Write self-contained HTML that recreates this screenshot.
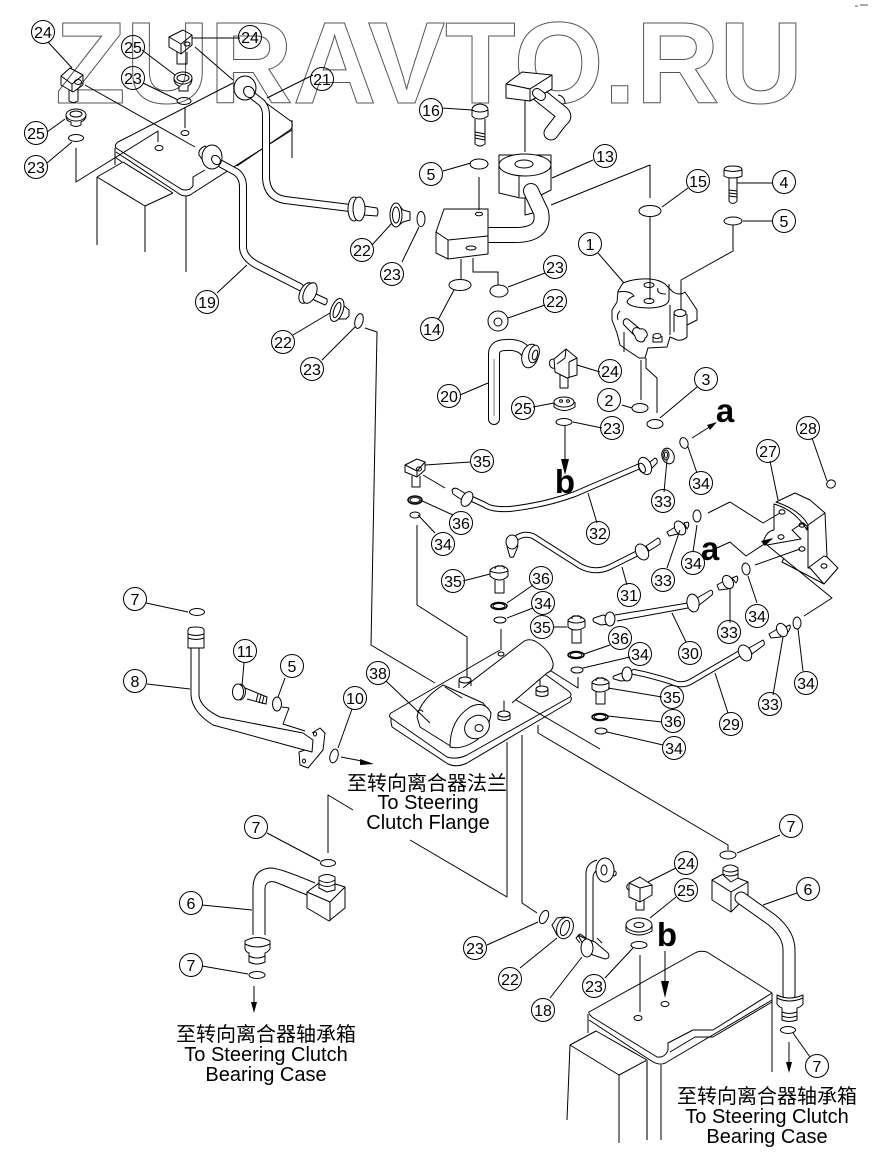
<!DOCTYPE html>
<html><head><meta charset="utf-8"><style>
html,body{margin:0;padding:0;background:#fff}
svg{display:block}
.w{font:bold 116px "Liberation Sans",sans-serif;fill:none;stroke:#555;stroke-width:1}
.p path,.p ellipse,.p circle,.p polyline,.p polygon,.p line{fill:none;stroke:#000;stroke-width:1;stroke-linejoin:round}
.p .f,.f path,.f ellipse,.f polygon{fill:#fff}
.p path.f,.p ellipse.f,.p polygon.f,.p .f path,.p .f ellipse,.p .f polygon{fill:#fff}
.p .k{fill:#000;stroke:none}
.p .t1{stroke:#000;fill:none;stroke-linecap:round}
.p .t2{stroke:#fff;fill:none;stroke-linecap:round}
.b circle{fill:none;stroke:#000;stroke-width:1}
.b text{font:16px "Liberation Sans",sans-serif;text-anchor:middle;fill:#000}
.l{font:20px "Liberation Sans","Noto Sans CJK SC",sans-serif;text-anchor:middle;fill:#000}
.big{font:bold 33px "Liberation Sans",sans-serif;text-anchor:middle;fill:#000}
</style></head><body>
<svg width="872" height="1162" viewBox="0 0 872 1162" xmlns="http://www.w3.org/2000/svg">
<rect width="872" height="1162" fill="#fff"/>
<text class="w" x="55" y="103" textLength="748" lengthAdjust="spacingAndGlyphs">ZURAVTO.RU</text>
<path d="M855 6h3M860 5h8" stroke="#555" fill="none"/>

<g class="p">
<!-- top-left tank -->
<path d="M233 83 L118 142 Q114 145 116 148 L181 189 Q185 191 190 189 L193 186 L193 177 L205 170 M237 166 L290 130 Q293 128 292 122 L262 100"/>
<path d="M115 148 V165 M115 157 L122 162 M116 152 L181 195 Q186 197 190 195 L265 147 L292 130 M292 120 V158 M186 196 V272"/>
<path d="M97 177 L123 162 L173 193 M97 177 L145 206 L173 193 M97 177 V245 M145 206 V252"/>
<path d="M158 131 V142 M158 131 L76 182 V148 M185 107 V128 M85 85 L195 147"/>
<ellipse cx="159" cy="148" rx="4" ry="2.5"/><ellipse cx="185" cy="133" rx="4" ry="2.5"/>

<!-- pipe 21 -->
<path class="t1" style="stroke-width:8" d="M248 92 L262 103 Q266 108 266 115 V178 Q267 197 285 200 L350 208"/>
<path class="t2" style="stroke-width:6" d="M248 92 L262 103 Q266 108 266 115 V178 Q267 197 285 200 L350 208"/>
<ellipse class="f" cx="245" cy="88" rx="11" ry="12"/><ellipse class="f" cx="249" cy="92" rx="5" ry="6" transform="rotate(-40 249 92)"/>
<path class="f" d="M364 206 L377 208 Q379 212 377 216 L364 215 Z"/>
<ellipse class="f" cx="354" cy="209" rx="6" ry="12"/><ellipse class="f" cx="359" cy="209" rx="6" ry="12"/>
<!-- 22 / 23 -->
<path class="f" d="M398 204 L403 210 L410 212 V220 L403 222 L398 226 Z"/>
<ellipse class="f" cx="396" cy="215" rx="6" ry="12"/><ellipse cx="396" cy="215" rx="3.5" ry="8"/>
<ellipse cx="421" cy="219" rx="4" ry="7.5"/>

<!-- pipe 19 -->
<path class="t1" style="stroke-width:8" d="M214 160 L236 172 Q243 177 243 187 V248 Q244 258 257 265 L300 287"/>
<path class="t2" style="stroke-width:6" d="M214 160 L236 172 Q243 177 243 187 V248 Q244 258 257 265 L300 287"/>
<path class="f" d="M199 155 Q198 149 205 146 L210 150 L204 162 Z"/>
<ellipse class="f" cx="212" cy="157" rx="10" ry="12"/><ellipse class="f" cx="216" cy="160" rx="4" ry="5" transform="rotate(-40 216 160)"/>
<path class="f" d="M314 293 L327 299 Q328 303 325 305 L312 299 Z"/>
<ellipse class="f" cx="306" cy="293" rx="6" ry="11" transform="rotate(25 306 293)"/><ellipse class="f" cx="310" cy="293" rx="6" ry="11" transform="rotate(25 310 293)"/>
<path class="f" d="M342 304 L349 310 V316 L346 319 L336 319 Z"/>
<ellipse class="f" cx="337" cy="310" rx="6" ry="12" transform="rotate(20 337 310)"/><ellipse cx="337" cy="310" rx="3" ry="8" transform="rotate(20 337 310)"/>
<ellipse cx="359" cy="321" rx="4" ry="7.5" transform="rotate(15 359 321)"/>
<path d="M365 328 L377 332 L371 645 L435 683"/>

<!-- blocks top -->
<path d="M70 68 L83 75 V85 L73 92 L61 85 V76 Z M61 76 L72 84 L83 75 M72 84 V92"/><ellipse cx="78" cy="82" rx="3.5" ry="2.5"/><path d="M69 90 V101 Q73 104 78 101 V89"/>
<ellipse cx="76" cy="115" rx="10" ry="6"/><ellipse cx="76" cy="114" rx="6" ry="3"/><path d="M66 116 Q66 121 71 122 V125 Q76 128 81 125 V122 Q86 120 86 115"/>
<ellipse cx="76" cy="138" rx="7.5" ry="3.5"/>
<path d="M183 30 L192 35 V45 L181 54 L169 47 V37 Z M169 37 L181 44 L192 35 M181 44 V54"/><ellipse cx="187" cy="44" rx="3" ry="2"/><path d="M177 52 V64 H187 V52"/>
<ellipse cx="183" cy="78" rx="9" ry="6"/><ellipse cx="183" cy="78" rx="6" ry="3.5"/><path d="M174 79 Q174 84 179 86 V91 H188 V86 Q192 84 192 78"/>
<ellipse cx="184" cy="101" rx="7" ry="3.5"/>

<!-- bolt 16 -->
<path d="M472 110 Q472 105 480 104 Q488 105 488 110 V116 Q484 119 480 119 Q474 119 472 116 Z M472 110 Q480 114 488 110 M475 119 V144 Q480 148 485 144 V119 M475 132 L485 134 M475 135 L485 137 M475 138 L485 140"/>

<!-- top pipe with block -->
<path d="M558 95 Q565 96 565 104"/>
<path class="t1" style="stroke-width:15" d="M537 93 L562 113 Q566 117 561 120 L551 133"/>
<path class="t2" style="stroke-width:13" d="M537 93 L562 113 Q566 117 561 120 L551 133"/>
<polygon class="f" points="506,84 522,72 552,75 530,89"/><polygon class="f" points="552,75 552,89 530,101 530,89"/><polygon class="f" points="506,84 530,89 530,101 506,98"/>
<path class="t1" style="stroke-width:10" d="M537 93 L541 96"/><path class="t2" style="stroke-width:8" d="M537 93 L541 96"/>
<path d="M525 101 V152"/>

<!-- 13 -->
<path class="f" d="M499 155 V193 L520 198 H535 L551 190 V155 Z"/><ellipse class="f" cx="525" cy="165" rx="26" ry="11"/>
<ellipse cx="524" cy="164" rx="9" ry="4"/>
<path d="M519 176 V197 M551 165 V190"/>
<path d="M525 198 V215 L533 213"/>
<path class="t1" style="stroke-width:16" d="M531 191 L541 212 Q546 236 512 235 H490"/>
<path class="t2" style="stroke-width:14" d="M531 191 L541 212 Q546 236 512 235 H490"/>
<path d="M551 205 L650 165 V198"/>
<polygon class="f" points="444,209 488,209 488,254 448,259 436,253 436,232"/>
<path d="M436 232 L448 240 L488 236 M448 240 V259"/><ellipse cx="479" cy="214" rx="3.5" ry="1.8"/><ellipse cx="471" cy="248" rx="5" ry="2"/>
<path d="M479 177 V210"/><ellipse cx="479" cy="164" rx="9" ry="5"/>
<path d="M461 259 V279 M473 258 V272 H498 V285"/>
<ellipse cx="460" cy="285" rx="11" ry="5.5"/><ellipse cx="499" cy="291" rx="9" ry="6"/>
<ellipse cx="498" cy="321" rx="10" ry="10"/><ellipse cx="498" cy="322" rx="4" ry="4"/>

<ellipse cx="650" cy="211" rx="11" ry="5.5"/>
<path d="M650 217 V300"/>
<!-- bolt 4 -->
<path d="M724 170 Q724 166 733 166 Q742 166 742 170 V176 Q738 178 733 178 Q727 178 724 176 Z M724 170 Q733 173 742 170 M729 178 V201 Q733 206 737 201 V178 M729 190 L737 191 M729 193 L737 194 M729 196 L737 197"/>
<ellipse cx="733" cy="221" rx="9" ry="4"/>
<path d="M733 225 V251 L681 280 V310"/>

<!-- part 1 -->
<path d="M623 283 Q635 278 650 279 Q660 280 665 284 L673 292 Q680 296 685 292 L697 310 V320 L687 325 V337 Q683 341 677 340 L670 337 L667 347 L648 348 L645 358 H639 L627 350 L620 345 L617 333 L612 320 V310 L617 302 L618 291 Z"/>
<path d="M618 292 Q630 290 634 296 Q628 298 627 302 Q630 308 650 308 Q670 307 669 298 V284 M658 288 Q656 294 666 294"/>
<ellipse cx="649" cy="285" rx="5" ry="2.5"/><ellipse cx="649" cy="301" rx="5" ry="2.5"/>
<ellipse cx="680" cy="313" rx="6" ry="3.5"/><path d="M674 314 V332 M687 314 V337 M670 305 V335"/>
<path d="M628 319 L640 329 A4 5 -45 0 1 645 338 A4 5 -45 0 1 635 336 L624 325 A4 5 -45 0 1 628 319 M640 329 A4 5 -45 0 0 635 336"/>
<ellipse cx="657" cy="336" rx="4" ry="2.5"/><path d="M653 336 V342 H662 V336"/>
<path d="M620 311 Q616 315 618 320 M624 332 V352"/>
<path d="M641 360 V400 M646 358 V368 L657 378 V413"/>
<ellipse cx="640" cy="408" rx="8" ry="4.5"/><ellipse cx="655" cy="424" rx="8" ry="4.5"/>

<!-- 20 -->
<path class="t1" style="stroke-width:12" d="M494 419 V354 Q494 345 506 345 Q520 344 526 352"/>
<path class="t2" style="stroke-width:10" d="M494 419 V354 Q494 345 506 345 Q520 344 526 352"/>
<path style="stroke:#777" d="M494 359 V416"/>
<ellipse class="f" cx="530" cy="356" rx="8" ry="12" transform="rotate(15 530 356)"/><ellipse class="f" cx="534" cy="354" rx="5" ry="9" transform="rotate(15 534 354)"/><ellipse class="f" cx="535" cy="355" rx="2.5" ry="5" transform="rotate(15 535 355)"/>
<!-- 24 mid -->
<path d="M554 359 L566 349 L577 358 V375 L567 378 L555 372 Z M566 349 L565 358 L557 364 M569 362 L577 358 M569 362 V378 M554 359 Q548 359 550 366 Q552 369 555 368 M560 375 V388 H568 V378"/>
<!-- 25 mid -->
<ellipse cx="564" cy="402" rx="10" ry="5"/><path d="M554 402 V407 Q564 414 575 407 V402"/><ellipse cx="561" cy="401" rx="1.5" ry="1.3"/><ellipse cx="568" cy="401" rx="1.5" ry="1.3"/>
<ellipse cx="564" cy="422" rx="8" ry="3.5"/>
<path d="M565 426 V463"/>
<polygon class="k" points="565,475 561,459 569,459"/>
<!-- a arrow -->
<path d="M692 438 L711 426"/><polygon class="k" points="717,422 707,425 710,430"/>
<ellipse cx="684" cy="443" rx="4" ry="5.5" transform="rotate(-20 684 443)"/>

<!-- 35 block -->
<path d="M405 465 L417 459 L425 462 V470 L417 477 L405 472 Z M405 465 L417 471 L425 462 M417 471 V477"/><ellipse cx="419" cy="469" rx="2.5" ry="2"/><path d="M412 476 V487 H420 V476"/>
<path d="M423 475 L445 488"/>
<!-- 32 -->
<path class="t1" style="stroke-width:6" d="M470 498 L485 505 Q492 510 510 509 Q545 505 575 494 L640 466"/>
<path class="t2" style="stroke-width:4" d="M470 498 L485 505 Q492 510 510 509 Q545 505 575 494 L640 466"/>
<path class="f" d="M452 490 Q454 487 458 489 L466 494 L462 500 L453 494 Z"/>
<ellipse class="f" cx="467" cy="499" rx="5" ry="8" transform="rotate(30 467 499)"/>
<path class="f" d="M650 462 L655 458 Q658 459 657 463 L652 468 Z"/>
<ellipse class="f" cx="645" cy="466" rx="6" ry="9" transform="rotate(-25 645 466)"/><ellipse cx="642" cy="468" rx="3" ry="5" transform="rotate(-25 642 468)"/>
<ellipse cx="668" cy="456" rx="6" ry="8" transform="rotate(-20 668 456)"/><ellipse cx="666" cy="455" rx="3" ry="5"/><ellipse cx="666" cy="455" rx="1.5" ry="3"/>
<ellipse cx="415" cy="500" rx="7" ry="4" style="stroke-width:1.5"/><ellipse cx="415" cy="500" rx="5" ry="2.5"/>
<ellipse cx="415" cy="515" rx="5" ry="3"/>
<path d="M417 525 V605 L467 637 V677 M501 629 V650"/>

<!-- 31 -->
<path class="t1" style="stroke-width:6" d="M518 537 Q525 533 533 536 L580 566 Q595 574 610 567 L638 553"/>
<path class="t2" style="stroke-width:4" d="M518 537 Q525 533 533 536 L580 566 Q595 574 610 567 L638 553"/>
<path class="f" d="M507 547 L510 557 Q513 558 514 556 L518 546 Z"/>
<ellipse class="f" cx="512" cy="542" rx="6" ry="7"/>
<path class="f" d="M646 546 L658 538 Q661 539 660 544 L649 551 Z"/>
<ellipse class="f" cx="642" cy="552" rx="6" ry="8.5" transform="rotate(-30 642 552)"/>
<!-- 33 right upper -->
<path class="f" d="M667 532 L677 526 L678 534 L669 536 Z"/><path class="f" d="M684 523 L688 522 Q690 525 687 529 Z"/>
<ellipse class="f" cx="680" cy="528" rx="5" ry="7.5" transform="rotate(-30 680 528)"/>
<ellipse cx="697" cy="516" rx="4" ry="6"/>

<!-- 27 bracket -->
<path d="M708 513 L730 502 L763 523 L780 513"/>
<path class="f" d="M776 502 L795 493 L810 500 L825 513 L827 557 L838 568 L824 584 L810 568 L808 568 V525 Q800 510 776 502 Z"/>
<path d="M808 525 L825 513 M808 568 L824 556 M824 556 L827 557"/>
<path d="M774 504 V530 Q766 531 763 543 L767 545 L801 539 L792 530 L803 523 L807 526 V530 Q795 510 774 504 Z"/>
<ellipse cx="782" cy="512" rx="3" ry="2.2"/><ellipse cx="802" cy="525" rx="3" ry="2.2"/><ellipse cx="781" cy="537" rx="3" ry="2.2"/><ellipse cx="802" cy="549" rx="3" ry="2.2"/><ellipse cx="824" cy="566" rx="3" ry="2.2"/>
<path d="M755 565 L800 549 M784 558 L782 562 L824 584 M767 545 L832 598 L804 616"/>
<ellipse cx="831" cy="484" rx="4.5" ry="4" transform="rotate(-25 831 484)"/>
<!-- a2 arrow -->
<path d="M717 548 L730 542 L746 556 L772 539"/><polygon class="k" points="773,538 761,541 765,546"/>
<ellipse cx="746" cy="569" rx="4" ry="6" transform="rotate(-10 746 569)"/>

<!-- 30 -->
<path d="M615 615 L688 603 M617 621 L688 608"/>
<path class="f" d="M594 618 L603 615 L609 617 V624 L601 625 L594 622 Q592 620 594 618 Z"/>
<ellipse class="f" cx="610" cy="619" rx="5" ry="7"/>
<path class="f" d="M697 598 L711 590 Q714 592 712 595 L698 606 Z"/>
<ellipse class="f" cx="693" cy="603" rx="6" ry="9" transform="rotate(-10 693 603)"/>
<path class="f" d="M717 585 L726 580 L728 589 L719 590 Z"/><path class="f" d="M732 578 L737 576 Q739 579 736 583 Z"/>
<ellipse class="f" cx="728" cy="582" rx="5" ry="7" transform="rotate(-30 728 582)"/>

<!-- 29 -->
<path class="t1" style="stroke-width:6" d="M634 672 Q650 675 672 682 Q682 687 692 681 L740 653"/>
<path class="t2" style="stroke-width:4" d="M634 672 Q650 675 672 682 Q682 687 692 681 L740 653"/>
<path class="f" d="M614 676 L622 673 L630 673 V680 L621 681 L614 679 Q612 677 614 676 Z"/>
<ellipse class="f" cx="627" cy="674" rx="5" ry="7"/>
<path class="f" d="M749 648 L763 640 Q765 642 764 645 L752 654 Z"/>
<ellipse class="f" cx="745" cy="653" rx="6" ry="8.5" transform="rotate(-30 745 653)"/>
<path class="f" d="M769 634 L779 628 L781 637 L771 638 Z"/><path class="f" d="M785 627 L790 625 Q791 628 788 632 Z"/>
<ellipse class="f" cx="782" cy="630" rx="5" ry="7" transform="rotate(-30 782 630)"/>
<ellipse cx="797" cy="623" rx="4" ry="6"/>

<!-- 35 bolts -->
<path d="M490 570 Q494 566 500 566 Q506 566 508 570 V576 Q504 580 500 580 Q494 580 490 576 Z M490 571 Q499 575 508 571 M495 569 Q496 565 500 566 Q505 565 504 569 M495 580 V593 H504 V580"/>
<ellipse cx="499" cy="606" rx="8" ry="3.5" style="stroke-width:1.5"/><ellipse cx="499" cy="606" rx="6" ry="2.5"/>
<ellipse cx="500" cy="620" rx="6" ry="3"/>
<path d="M568 620 Q572 616 576 616 Q582 616 585 620 V627 Q581 630 576 630 Q571 630 568 627 Z M568 621 Q576 625 585 621 M572 619 Q572 615 576 616 Q581 615 581 619 M572 630 V643 H581 V630"/>
<ellipse cx="576" cy="655" rx="8" ry="3.5" style="stroke-width:1.5"/><ellipse cx="576" cy="655" rx="6" ry="2.5"/>
<ellipse cx="577" cy="670" rx="6" ry="3"/>
<path d="M592 682 Q596 678 600 678 Q606 678 609 682 V689 Q605 692 600 692 Q595 692 592 689 Z M592 683 Q600 687 609 683 M596 681 Q596 677 600 678 Q605 677 605 681 M596 692 V704 H605 V692"/>
<ellipse cx="600" cy="717" rx="8" ry="3.5" style="stroke-width:1.5"/><ellipse cx="600" cy="717" rx="6" ry="2.5"/>
<ellipse cx="601" cy="731" rx="6" ry="3"/>
<path d="M578 677 V688 L540 664 V687 M600 749 L504 693 V712 M538 725 V733 L728 845 V850"/>

<!-- plate 38 -->
<path d="M500 650 L391 713 Q388 716 391 718 L447 757 Q457 760 467 755 L570 697 Q573 694 567 690 L542 672"/>
<path d="M392 727 L448 764 Q457 768 467 763 L570 702 Q572 700 571 697"/>
<path d="M391 718 V722 L392 727"/>
<!-- cylinder back -->
<path d="M463 688 L523 642 Q528 638 535 641 Q550 650 553 663 Q554 670 547 673 L512 703" style="fill:#fff;stroke:none"/>
<path d="M463 688 L523 642 Q528 638 535 641 Q550 650 553 663 Q554 670 547 673 L512 703"/>
<!-- big body -->
<path class="f" d="M443 685 L483 703 L491 713 L477 740 L452 747 L420 727 L417 717 Q420 700 443 685 Z"/>
<path d="M445 687 L462 698 M417 712 Q421 708 423 712"/>
<path class="f" d="M450 747 Q450 720 470 707 Q485 700 491 713 Q490 727 477 740 Q462 750 450 747 Z"/>
<ellipse class="f" cx="477" cy="727" rx="13" ry="11" transform="rotate(-35 477 727)"/><ellipse cx="479" cy="728" rx="4" ry="3.5"/>
<ellipse class="f" cx="465" cy="680" rx="6" ry="3"/><path d="M459 680 V688 M471 680 V686"/>
<ellipse class="f" cx="542" cy="689" rx="6" ry="3"/><path d="M536 689 V695 Q542 698 548 695 V689"/>
<ellipse class="f" cx="504" cy="714" rx="6" ry="3"/><path d="M498 714 V719 Q504 722 510 719 V714"/>
<ellipse cx="501" cy="654" rx="3" ry="2"/>
<path d="M507 742 V897 L410 840 M522 735 V903 L537 913"/>

<!-- 8 -->
<path d="M191 648 V695 Q192 712 213 725 L297 748 M199 648 V696 Q201 708 220 717 L303 733"/>
<path d="M303 733 L313 740 L312 752 L297 748"/>
<path class="f" d="M188 630 Q188 627 195 627 Q204 627 204 630 V648 H188 Z"/>
<path d="M188 634 Q196 637 204 634 M188 638 Q196 641 204 638"/>
<path d="M312 733 L320 728 L325 733 L323 750 L308 768 L300 765 L299 752 L305 750"/><ellipse cx="315" cy="734" rx="1.5" ry="2"/><ellipse cx="304" cy="761" rx="1.5" ry="2"/>
<path d="M282 707 L289 708 L283 724 L305 731"/>
<ellipse cx="277" cy="704" rx="4.5" ry="7"/>
<ellipse cx="197" cy="612" rx="7.5" ry="3.5"/>
<!-- 11 -->
<path d="M245 688 L267 697 L266 704 L247 699 M258 694 L256 702 M261 695 L259 703 M264 696 L262 704"/>
<ellipse class="f" cx="238" cy="692" rx="5.5" ry="8"/><path d="M240 684 Q247 686 245 695 Q243 700 240 700"/>
<ellipse cx="334" cy="756" rx="4" ry="7" transform="rotate(15 334 756)"/>
<path d="M341 757 L367 762"/><polygon class="k" points="374,764 360,759 360,765"/>

<!-- 6 left -->
<path d="M253 935 V887 Q254 868 272 868 Q282 869 315 883 M265 935 V888 Q266 880 275 882 L307 895"/>
<polygon class="f" points="307,892 323,880 345,887 345,908 329,921 307,908"/>
<path d="M307 892 L330 902 L345 887 M330 902 V921"/>
<path class="f" d="M319 888 V877 Q327 872 335 877 V890 L327 892 Z"/>
<path d="M319 880 Q327 885 335 880 M319 884 Q327 889 335 884"/>
<path class="f" d="M245 941 Q257 934 270 941 V949 Q268 952 265 953 V962 Q257 966 249 962 V953 Q246 952 245 949 Z"/>
<path d="M245 944 Q257 950 270 944 M249 956 Q257 960 265 956"/>
<ellipse cx="257" cy="975" rx="8" ry="3.5"/><ellipse cx="328" cy="863" rx="7.5" ry="3.5"/>
<path d="M328 853 V795 L353 810"/>
<path d="M254 986 V1003"/><polygon class="k" points="254,1013 251,1002 257,1002"/>

<!-- 18 -->
<path d="M586 950 V872 Q587 863 597 860 M593 942 V878 Q593 872 598 870"/>
<path class="f" d="M578 935 L584 938 L595 942 L608 953 Q611 958 605 959 L593 955 L587 952 Z"/>
<ellipse class="f" cx="587" cy="948" rx="6" ry="9"/>
<path d="M580 943 L576 938 L580 934 L586 938 M597 938 L602 943"/>
<path class="f" d="M612 869 L616 872 Q617 875 614 876 L610 875 Z"/>
<ellipse class="f" cx="605" cy="870" rx="9" ry="12"/><ellipse cx="604" cy="870" rx="3" ry="5"/>
<ellipse cx="544" cy="917" rx="4" ry="7" transform="rotate(25 544 917)"/>
<path d="M552 925 L557 918 L565 917 L566 937 L557 935 Z"/><ellipse class="f" cx="565" cy="928" rx="8" ry="11" transform="rotate(20 565 928)"/><ellipse cx="565" cy="928" rx="4" ry="8" transform="rotate(20 565 928)"/>
<!-- 24/25 lower -->
<path d="M629 883 L640 877 L652 885 V895 L640 902 L629 897 Z M629 883 L640 888 L652 885 M640 888 V902 M628 884 Q625 888 629 890 M636 902 V910 H644 V900"/>
<ellipse cx="639" cy="925" rx="13" ry="7"/><ellipse cx="639" cy="925" rx="5" ry="2.5"/><path d="M626 925 V931 Q639 939 652 931 V925"/>
<ellipse cx="639" cy="945" rx="8" ry="3.5"/>
<path d="M640 955 V1012"/><ellipse cx="638" cy="1018" rx="4" ry="2.5"/><ellipse cx="665" cy="1004" rx="4" ry="2.5"/>
<path d="M665 951 V981"/><polygon class="k" points="665,998 661,981 669,981"/>

<!-- 6 right -->
<polygon class="f" points="712,880 725,873 748,882 748,895 731,912 712,900"/>
<path d="M712 880 L731 892 L748 882 M731 892 V912"/>
<path class="f" d="M723 875 V868 Q730 862 738 868 V878 L731 882 Z"/>
<path d="M723 870 Q730 874 738 870 M723 874 Q730 878 738 874"/>
<path class="t1" style="stroke-width:13" d="M741 898 L772 920 Q789 934 789 950 V995"/>
<path class="t2" style="stroke-width:11" d="M741 898 L772 920 Q789 934 789 950 V995"/>
<path class="f" d="M777 995 Q789 1001 803 995 V1004 Q801 1007 797 1008 V1020 Q789 1023 782 1020 V1008 Q779 1007 777 1004 Z"/>
<path d="M777 998 Q789 1004 803 998 M782 1012 Q789 1015 797 1012 M782 1016 Q789 1019 797 1016"/>
<ellipse cx="788" cy="1030" rx="7.5" ry="3.5"/>
<path d="M789 1042 V1064"/><polygon class="k" points="789,1073 786,1062 792,1062"/>
<ellipse cx="728" cy="855" rx="8" ry="4"/>

<!-- bottom right tank -->
<path d="M589 1012 L695 953 Q700 950 707 952 L772 993 L713 1030 L693 1030 L668 1043 V1050 Q665 1058 657 1057 L592 1017 Q588 1013 589 1012"/>
<path d="M670 1052 L695 1037 L713 1037 L772 1002"/>
<path d="M588 1014 V1033 M589 1020 L650 1060 Q660 1067 667 1062 L772 1000 M772 993 V1072"/>
<path d="M570 1045 L596 1031 L647 1060 M570 1045 L619 1075 L647 1060 M570 1045 L567 1120 M619 1075 V1143 M661 1065 V1140"/>
<path style="stroke:#777;stroke-width:2" d="M647 1060 V1140"/>
</g>

<!-- leaders -->
<g class="p">
<path d="M48 42 L72 68 M142 50 L175 75 M143 83 L178 100 M313 75 L267 98 M47 132 L65 119 M47 163 L72 142 M192 38 H240 M195 47 L233 80 M372 245 L392 223 M402 262 L419 227 M217 293 L247 265 M293 335 L330 313 M322 360 L355 327 M442 108 L472 110 M443 171 L471 163 M593 160 L552 178 M662 207 L688 188 M737 183 H773 M743 221 H773 M598 253 L624 283 M438 320 L454 290 M508 287 L545 273 M508 318 L545 305 M460 395 L488 383 M577 365 L600 372 M533 407 L554 403 M573 422 L602 428 M622 405 L632 408 M660 418 L697 387 M470 462 L425 465 M664 492 L667 460 M697 473 L688 447 M597 523 L588 493 M627 585 L622 567 M667 568 L680 530 M693 552 L697 525 M453 515 L420 500 M435 533 L418 515 M463 581 L490 574 M533 585 L507 603 M533 608 L507 618 M554 627 L567 627 M610 645 L584 654 M630 657 L583 668 M686 642 L672 613 M730 623 V588 M757 603 L748 576 M728 713 L715 673 M662 697 L608 688 M662 722 L608 716 M663 745 L607 732 M773 695 L783 637 M803 671 L798 629 M386 681 L430 723 M812 438 L827 481 M770 461 L778 500"/>
<path d="M146 603 L188 612 M147 684 L190 689 M244 663 L242 686 M285 678 L278 697 M352 709 L338 748 M267 833 L320 861 M202 905 L252 910 M202 966 L248 974 M780 835 L737 853 M797 893 L763 905 M676 868 L648 882 M676 897 L650 918 M487 945 L538 922 M520 968 L557 938 M550 998 L582 957 M605 978 L633 948 M810 1057 L793 1033"/>
</g>

<!-- balloons -->
<g class="b">
<circle cx="43" cy="32" r="11.5"/><text x="43" y="38">24</text>
<circle cx="250" cy="37" r="11.5"/><text x="250" y="43">24</text>
<circle cx="133" cy="47" r="11.5"/><text x="133" y="53">25</text>
<circle cx="133" cy="78" r="11.5"/><text x="133" y="84">23</text>
<circle cx="322" cy="79" r="11.5"/><text x="322" y="85">21</text>
<circle cx="36" cy="133" r="11.5"/><text x="36" y="139">25</text>
<circle cx="36" cy="167" r="11.5"/><text x="36" y="173">23</text>
<circle cx="431" cy="110" r="11.5"/><text x="431" y="116">16</text>
<circle cx="605" cy="156" r="11.5"/><text x="605" y="162">13</text>
<circle cx="431" cy="174" r="11.5"/><text x="431" y="180">5</text>
<circle cx="784" cy="182" r="11.5"/><text x="784" y="188">4</text>
<circle cx="698" cy="181" r="11.5"/><text x="698" y="187">15</text>
<circle cx="784" cy="221" r="11.5"/><text x="784" y="227">5</text>
<circle cx="362" cy="250" r="11.5"/><text x="362" y="256">22</text>
<circle cx="392" cy="274" r="11.5"/><text x="392" y="280">23</text>
<circle cx="207" cy="302" r="11.5"/><text x="207" y="308">19</text>
<circle cx="283" cy="342" r="11.5"/><text x="283" y="348">22</text>
<circle cx="312" cy="369" r="11.5"/><text x="312" y="375">23</text>
<circle cx="555" cy="267" r="11.5"/><text x="555" y="273">23</text>
<circle cx="555" cy="301" r="11.5"/><text x="555" y="307">22</text>
<circle cx="432" cy="329" r="11.5"/><text x="432" y="335">14</text>
<circle cx="590" cy="244" r="11.5"/><text x="590" y="250">1</text>
<circle cx="449" cy="396" r="11.5"/><text x="449" y="402">20</text>
<circle cx="610" cy="371" r="11.5"/><text x="610" y="377">24</text>
<circle cx="523" cy="408" r="11.5"/><text x="523" y="414">25</text>
<circle cx="609" cy="400" r="11.5"/><text x="609" y="406">2</text>
<circle cx="706" cy="379" r="11.5"/><text x="706" y="385">3</text>
<circle cx="612" cy="428" r="11.5"/><text x="612" y="434">23</text>
<circle cx="482" cy="461" r="11.5"/><text x="482" y="467">35</text>
<circle cx="701" cy="483" r="11.5"/><text x="701" y="489">34</text>
<circle cx="663" cy="501" r="11.5"/><text x="663" y="507">33</text>
<circle cx="808" cy="428" r="11.5"/><text x="808" y="434">28</text>
<circle cx="768" cy="451" r="11.5"/><text x="768" y="457">27</text>
<circle cx="598" cy="533" r="11.5"/><text x="598" y="539">32</text>
<circle cx="461" cy="523" r="11.5"/><text x="461" y="529">36</text>
<circle cx="443" cy="544" r="11.5"/><text x="443" y="550">34</text>
<circle cx="663" cy="580" r="11.5"/><text x="663" y="586">33</text>
<circle cx="693" cy="563" r="11.5"/><text x="693" y="569">34</text>
<circle cx="629" cy="595" r="11.5"/><text x="629" y="601">31</text>
<circle cx="453" cy="581" r="11.5"/><text x="453" y="587">35</text>
<circle cx="541" cy="578" r="11.5"/><text x="541" y="584">36</text>
<circle cx="543" cy="603" r="11.5"/><text x="543" y="609">34</text>
<circle cx="542" cy="627" r="11.5"/><text x="542" y="633">35</text>
<circle cx="620" cy="638" r="11.5"/><text x="620" y="644">36</text>
<circle cx="640" cy="654" r="11.5"/><text x="640" y="660">34</text>
<circle cx="690" cy="653" r="11.5"/><text x="690" y="659">30</text>
<circle cx="757" cy="616" r="11.5"/><text x="757" y="622">34</text>
<circle cx="729" cy="632" r="11.5"/><text x="729" y="638">33</text>
<circle cx="672" cy="697" r="11.5"/><text x="672" y="703">35</text>
<circle cx="673" cy="721" r="11.5"/><text x="673" y="727">36</text>
<circle cx="674" cy="748" r="11.5"/><text x="674" y="754">34</text>
<circle cx="731" cy="724" r="11.5"/><text x="731" y="730">29</text>
<circle cx="770" cy="704" r="11.5"/><text x="770" y="710">33</text>
<circle cx="806" cy="683" r="11.5"/><text x="806" y="689">34</text>
<circle cx="378" cy="673" r="11.5"/><text x="378" y="679">38</text>
<circle cx="135" cy="599" r="11.5"/><text x="135" y="605">7</text>
<circle cx="135" cy="681" r="11.5"/><text x="135" y="687">8</text>
<circle cx="245" cy="651" r="11.5"/><text x="245" y="657">11</text>
<circle cx="292" cy="666" r="11.5"/><text x="292" y="672">5</text>
<circle cx="355" cy="698" r="11.5"/><text x="355" y="704">10</text>
<circle cx="256" cy="827" r="11.5"/><text x="256" y="833">7</text>
<circle cx="191" cy="903" r="11.5"/><text x="191" y="909">6</text>
<circle cx="191" cy="965" r="11.5"/><text x="191" y="971">7</text>
<circle cx="791" cy="826" r="11.5"/><text x="791" y="832">7</text>
<circle cx="808" cy="889" r="11.5"/><text x="808" y="895">6</text>
<circle cx="686" cy="863" r="11.5"/><text x="686" y="869">24</text>
<circle cx="686" cy="890" r="11.5"/><text x="686" y="896">25</text>
<circle cx="475" cy="948" r="11.5"/><text x="475" y="954">23</text>
<circle cx="510" cy="979" r="11.5"/><text x="510" y="985">22</text>
<circle cx="543" cy="1010" r="11.5"/><text x="543" y="1016">18</text>
<circle cx="594" cy="986" r="11.5"/><text x="594" y="992">23</text>
<circle cx="817" cy="1066" r="11.5"/><text x="817" y="1072">7</text>
</g>

<text class="big" x="725" y="422">a</text>
<text class="big" x="565" y="493">b</text>
<text class="big" x="710" y="560">a</text>
<text class="big" x="667" y="946">b</text>

<text class="l" x="427" y="790">至转向离合器法兰</text>
<text class="l" x="428" y="809">To Steering</text>
<text class="l" x="428" y="829">Clutch Flange</text>
<text class="l" x="266" y="1041">至转向离合器轴承箱</text>
<text class="l" x="266" y="1061">To Steering Clutch</text>
<text class="l" x="266" y="1081">Bearing Case</text>
<text class="l" x="767" y="1103">至转向离合器轴承箱</text>
<text class="l" x="767" y="1123">To Steering Clutch</text>
<text class="l" x="767" y="1143">Bearing Case</text>
</svg>
</body></html>
